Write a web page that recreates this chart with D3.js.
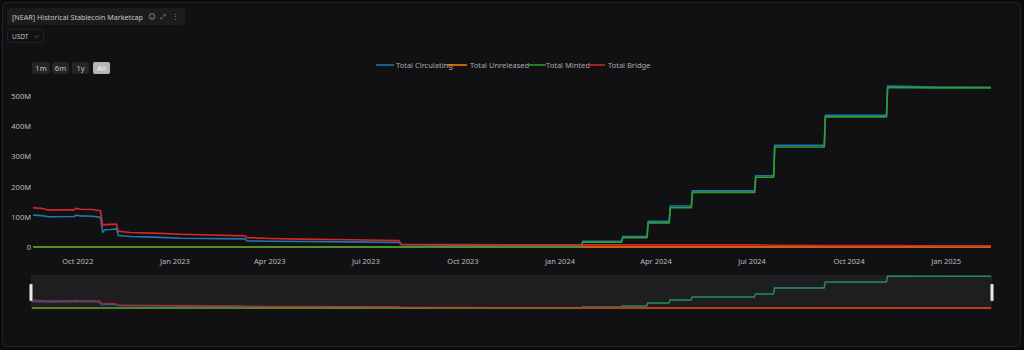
<!DOCTYPE html>
<html><head><meta charset="utf-8">
<script src="https://cdn.jsdelivr.net/npm/d3@7/dist/d3.min.js"></script>
<style>
html,body{margin:0;padding:0;background:#0b0b0c;}
svg{display:block;font-family:"Noto Sans",sans-serif;}
</style></head>
<body>
<svg id="c" width="1024" height="350"></svg>
<script>
// ---- data (values in millions of USD) ----
const dates = ["2022-08-20","2022-08-28","2022-09-04","2022-09-08","2022-09-28","2022-09-30","2022-10-04","2022-10-15","2022-10-23","2022-10-25","2022-10-27","2022-11-02","2022-11-07","2022-11-09","2022-11-20","2022-12-19","2023-01-07","2023-03-09","2023-03-11","2023-04-02","2023-05-01","2023-06-17","2023-08-02","2023-08-04","2023-10-01","2023-11-15","2024-01-22","2024-01-23","2024-02-29","2024-03-01","2024-03-24","2024-03-25","2024-04-14","2024-04-15","2024-05-05","2024-05-06","2024-07-04","2024-07-05","2024-07-22","2024-07-23","2024-09-08","2024-09-09","2024-11-06","2024-11-07","2024-12-20","2025-02-13"];
const circulating = [106,104,100,100,101,105,103,102,98,48,57,58,60,38,35,32,29,27,20,19,18,17,15,8,6,5,6,19,19,35,35,85,85,136,136,186,186,236,236,337,337,436,436,533,530,529];
const unreleased  = [0,0,0,0,0,0,0,0,0,0,0,0,0,0,0,0,0,0,0,0,0,0,0,0,0,0,0,0,0,0,0,0,0,0,0,0,0,0,0,0,0,0,0,0,0,0];
const minted      = [0,0,0,0,0,0,0,0,0,0,0,0,0,0,0,0,0,0,0,0,0,0,0,0,0,0,0,16,16,31,31,80,80,130,130,181,181,231,231,331,331,431,431,528,527,527];
const bridge      = [130,128,122,123,123,128,125,124,120,70,74,75,76,52,48,45,42,37,31,28,26,24,21,9,8,7,7,7,7,7,7,7,7,7,7,7,7,7,6,6,5,5,5,5,4,4];
const seriesNames = ["Total Circulating","Total Unreleased","Total Minted","Total Bridge"];
const seriesColors = ["#1f77b4","#ff7f0e","#2ca02c","#d62728"];
const yTicks = [0,100,200,300,400,500];
const xTicks = ["2022-10-01","2023-01-01","2023-04-01","2023-07-01","2023-10-01","2024-01-01","2024-04-01","2024-07-01","2024-10-01","2025-01-01"];
const ranges = ["1m","6m","1y","All"];

const parse = d3.timeParse("%Y-%m-%d");
const D = dates.map(parse);
const seriesVals = [circulating, unreleased, minted, bridge];

const svg = d3.select("#c");
// card
svg.append("rect").attr("x",2.5).attr("y",2.5).attr("width",1018).attr("height",344).attr("rx",4)
  .attr("fill","#111113").attr("stroke","#232326");

// title box
svg.append("rect").attr("x",7).attr("y",8).attr("width",178).attr("height",17).attr("rx",3).attr("fill","#1c1c1f");
svg.append("text").attr("x",12).attr("y",19.5).attr("fill","#c4c4c6").attr("font-size",7.2)
  .attr("textLength",131).attr("lengthAdjust","spacingAndGlyphs").text("[NEAR] Historical Stablecoin Marketcap");
svg.append("circle").attr("cx",152).attr("cy",16.5).attr("r",2.8).attr("fill","none").attr("stroke","#9a9a9c").attr("stroke-width",0.8);
svg.append("text").attr("x",152).attr("y",18.5).attr("text-anchor","middle").attr("fill","#9a9a9c").attr("font-size",5).text("i");
svg.append("text").attr("x",163).attr("y",19).attr("text-anchor","middle").attr("fill","#9a9a9c").attr("font-size",7).text("⤢");
svg.append("text").attr("x",175).attr("y",19).attr("text-anchor","middle").attr("fill","#9a9a9c").attr("font-size",7).text("⋮");
// USDT dropdown
svg.append("rect").attr("x",7.5).attr("y",29.5).attr("width",36).attr("height",13).attr("rx",2).attr("fill","#111113").attr("stroke","#222225");
svg.append("text").attr("x",12).attr("y",38.5).attr("fill","#bdbdbf").attr("font-size",6.5).text("USDT");
svg.append("path").attr("d","M34.5,35.5 L36.5,37.5 L38.5,35.5").attr("fill","none").attr("stroke","#77777a").attr("stroke-width",0.7);

// range buttons
const bx = [32,52,72,93], bw=[18,17,17,17];
ranges.forEach((r,i)=>{
  const sel = r==="All";
  svg.append("rect").attr("x",bx[i]).attr("y",62).attr("width",bw[i]).attr("height",12).attr("rx",2)
    .attr("fill", sel?"#b5b5b8":"#252528");
  svg.append("text").attr("x",bx[i]+bw[i]/2).attr("y",71).attr("text-anchor","middle")
    .attr("fill", sel?"#f4f4f4":"#c4c4c6").attr("font-size",7.5).text(r);
});

// legend
const legX = [376,447,528,588];
const legW = [18,20,18,17];
const legTX = [396,470,546,608];
seriesNames.forEach((n,i)=>{
  svg.append("line").attr("x1",legX[i]).attr("x2",legX[i]+legW[i]).attr("y1",65).attr("y2",65)
    .attr("stroke",seriesColors[i]).attr("stroke-width",2).attr("opacity",0.75);
  svg.append("text").attr("x",legTX[i]).attr("y",68).attr("fill","#a9a9ab").attr("font-size",7.5).text(n);
});

// scales
const x = d3.scaleTime().domain([parse("2022-08-20"), parse("2025-02-13")]).range([33,991]);
const y = d3.scaleLinear().domain([0,500]).range([247,96]);

// y axis
const fmt = v => v===0 ? "0" : v+"M";
svg.append("g").attr("transform","translate(31,0)")
  .call(d3.axisLeft(y).tickValues(yTicks).tickFormat(fmt).tickSize(0).tickPadding(0))
  .call(g=>g.select(".domain").remove())
  .call(g=>g.selectAll("text").attr("fill","#bcbcbe").attr("font-size",7.5).attr("font-family","Noto Sans, sans-serif"));

// x axis
svg.append("g").attr("transform","translate(0,255)")
  .call(d3.axisBottom(x).tickValues(xTicks.map(parse)).tickFormat(d3.timeFormat("%b %Y")).tickSize(0).tickPadding(4))
  .call(g=>g.select(".domain").remove())
  .call(g=>g.selectAll("text").attr("fill","#bcbcbe").attr("font-size",7.5).attr("font-family","Noto Sans, sans-serif"));

// lines
const drawOrder = [0,1,2,3];
const mkLine = (ys) => d3.line().x((d,i)=>x(D[i])).y(d=>ys(d));
drawOrder.forEach(si=>{
  svg.append("path").datum(seriesVals[si]).attr("fill","none").attr("stroke",seriesColors[si])
    .attr("stroke-width",1.6).attr("stroke-linejoin","round").attr("d", mkLine(y));
});

// slider
const sx = d3.scaleTime().domain(x.domain()).range([32,991]);
const sy = d3.scaleLinear().domain([0,533]).range([308,276]);
svg.append("rect").attr("x",31).attr("y",275).attr("width",961).attr("height",34).attr("fill","#1e1e21");
drawOrder.forEach(si=>{
  svg.append("path").datum(seriesVals[si]).attr("fill","none").attr("stroke",seriesColors[si])
    .attr("stroke-width",1.3).attr("opacity",0.75)
    .attr("d", d3.line().x((d,i)=>sx(D[i])).y(d=>sy(d)));
});
[31,992].forEach(hx=>{
  svg.append("rect").attr("x",hx-1.5).attr("y",284).attr("width",3).attr("height",17).attr("rx",1)
    .attr("fill","#e8e8e8").attr("stroke","#888").attr("stroke-width",0.4);
});
</script>
</body></html>
